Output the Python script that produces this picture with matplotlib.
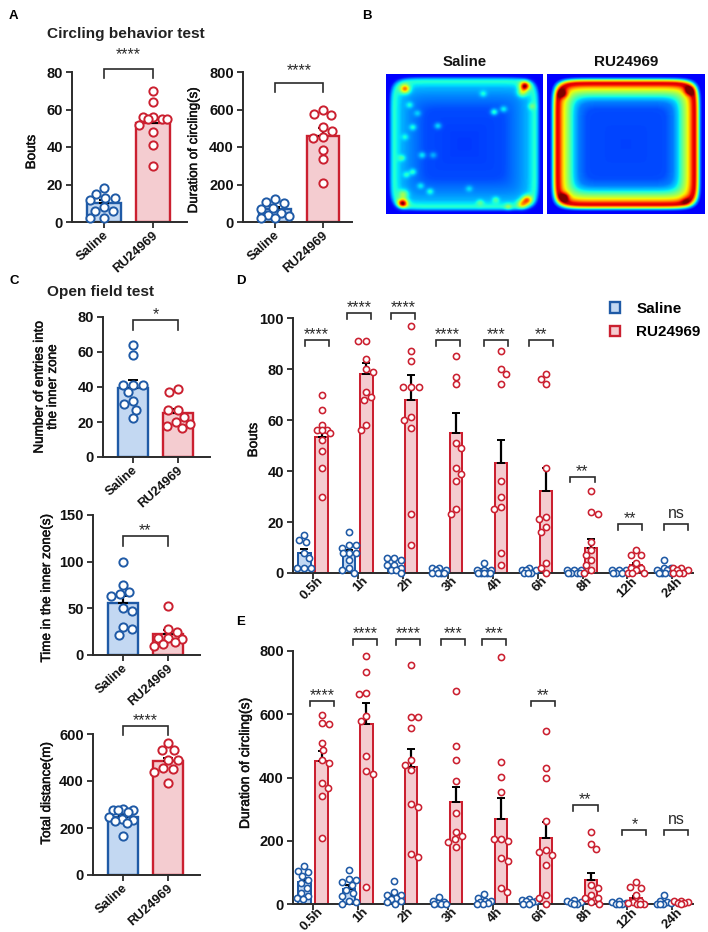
import matplotlib
matplotlib.use("Agg")
import matplotlib.pyplot as plt
import matplotlib.patheffects as pe
from matplotlib.transforms import ScaledTranslation
import numpy as np

plt.rcParams['font.family'] = ['Liberation Sans', 'DejaVu Sans']

W, H = 708, 932
BLUE, BLUE_FILL = '#1f5aa6', '#c3d8f2'
RED, RED_FILL = '#cb2030', '#f4ccd0'
DARK = '#2b2b2b'

groups = ['Saline', 'RU24969']
hours = ['0.5h', '1h', '2h', '3h', '4h', '6h', '8h', '12h', '24h']

# panel A
bouts_sal = [18, 15, 13, 13, 12, 8, 6, 6, 2, 2]
bouts_ru = [70, 64, 56, 56, 55, 55, 55, 52, 48, 41, 30]
dur_sal = [122, 105, 100, 75, 70, 50, 35, 30, 20, 20]
dur_ru = [597, 575, 570, 505, 487, 455, 450, 385, 335, 210]
a_means = [[10, 53], [70, 460]]
a_errs = [[1.6, 3.5], [12, 40]]

# panel C
entries_sal = [64, 58, 41, 41, 41, 37, 32, 30, 27, 22]
entries_ru = [39, 37, 27, 27, 23, 20, 19, 18, 16.5]
time_sal = [100, 75, 67, 65, 63, 50, 47, 30, 28, 21]
time_ru = [52, 28, 25, 18, 18, 17, 14, 12, 10]
dist_sal = [280, 278, 275, 275, 270, 245, 240, 235, 230, 220, 165]
dist_ru = [560, 530, 530, 490, 490, 455, 450, 440, 390]
c_means = [[39.5, 25], [56, 22], [245, 483]]
c_errs = [[4.5, 2.5], [7, 4.5], [12, 15]]

# panel D
d_sal = [[15, 13, 12, 8, 6, 2, 2, 2], [16, 11, 11, 10, 8, 8, 8, 5, 2, 1, 0],
         [6, 6, 5, 3, 3, 2, 1, 1, 0], [2, 2, 1, 1, 0, 0, 0, 0],
         [4, 1, 1, 1, 0, 0, 0, 0, 0], [2, 1, 1, 1, 0, 0, 0], [1, 1, 1, 0, 0, 0, 0],
         [1, 1, 1, 0, 0, 0], [5, 2, 2, 1, 1, 0, 0, 0, 0]]
d_ru = [[70, 64, 58, 56, 56, 56, 55, 52, 48, 41, 30],
        [91, 91, 84, 80, 79, 71, 69, 68, 58, 56],
        [97, 87, 83, 73, 73, 73, 61, 60, 57, 23, 11],
        [85, 77, 74, 51, 49, 41, 39, 36, 25, 23],
        [87, 80, 78, 74, 36, 30, 26, 25, 8, 3],
        [78, 76, 74, 41, 22, 21, 18, 16, 4, 2, 0],
        [32, 24, 23, 12, 9, 7, 5, 3, 1, 0],
        [9, 7, 7, 4, 2, 2, 1, 0, 0, 0],
        [2, 2, 1, 1, 0, 0, 0]]
d_sal_mean = [8, 7.5, 2.5, 0.7, 1, 1, 0.5, 0.5, 1.2]
d_sal_err = [1.5, 1.7, 0.8, 0.3, 0.4, 0.3, 0.2, 0.2, 0.5]
d_ru_mean = [53.5, 78, 68, 55, 43, 32, 10, 3, 1]
d_ru_err = [3.3, 4.5, 9.7, 7.7, 9.2, 9, 3.4, 1, 0.4]
d_stars = ['****', '****', '****', '****', '***', '**', '**', '**', 'ns']

# panel E
e_sal = [[120, 105, 100, 90, 75, 65, 50, 35, 25, 20, 15],
         [107, 78, 75, 70, 60, 45, 35, 25, 10, 5, 0],
         [73, 38, 30, 28, 20, 15, 10, 5, 0], [22, 10, 5, 3, 0, 0, 0],
         [32, 20, 10, 8, 5, 2, 0, 0], [15, 12, 10, 8, 5, 0, 0],
         [12, 8, 5, 2, 0, 0], [8, 5, 2, 0, 0, 0], [30, 10, 5, 2, 0, 0, 0]]
e_ru = [[597, 572, 570, 510, 488, 455, 445, 382, 368, 340, 210],
        [785, 735, 668, 663, 595, 578, 467, 420, 412, 55],
        [757, 592, 590, 555, 455, 440, 425, 317, 308, 158, 148],
        [675, 500, 455, 390, 288, 228, 215, 205, 195, 180],
        [780, 450, 403, 355, 207, 205, 200, 145, 135, 50, 38],
        [547, 430, 400, 262, 170, 165, 155, 122, 27, 20, 0],
        [228, 190, 173, 60, 50, 30, 20, 18, 5, 0],
        [70, 55, 52, 30, 10, 5, 3, 0, 0, 0],
        [10, 8, 5, 3, 2, 0]]
e_sal_mean = [70, 48, 22, 5, 8, 6, 4, 2, 5]
e_sal_err = [12, 12, 8, 3, 3, 2, 2, 1, 3]
e_ru_mean = [452, 568, 432, 323, 270, 210, 75, 20, 6]
e_ru_err = [32, 68, 57, 48, 65, 50, 23, 5, 2]
e_stars = ['****', '****', '****', '***', '***', '**', '**', '*', 'ns']

# bright specks in the saline heat map (u, v, height)
saline_spots = [(.69, .27, .2), (.75, .25, .15), (.33, .37, .14), (.17, .38, .14),
                (.23, .58, .14), (.17, .70, .15), (.28, .84, .14), (.53, .82, .1),
                (.62, .14, .12), (.12, .45, .1), (.10, .60, .14), (.13, .72, .12),
                (.20, .28, .1), (.15, .22, .12), (.22, .80, .12), (.70, .90, .14),
                (.60, .92, .12), (.78, .95, .14), (.30, .58, .1), (.93, .23, .12)]
saline_hot = [(.12, .105, .45), (.885, .085, .62), (.105, .925, .62), (.90, .90, .42),
              (.87, .13, .25), (.11, .86, .22), (.87, .93, .3)]
ru_hot = [(.10, .14, .3), (.90, .12, .3), (.11, .88, .3), (.88, .91, .12)]


def make_axes(left, right, top, bottom):
    ax = fig.add_axes([left / W, 1 - bottom / H, (right - left) / W, (bottom - top) / H])
    ax.patch.set_alpha(0)
    for s in ['top', 'right']:
        ax.spines[s].set_visible(False)
    for s in ['left', 'bottom']:
        ax.spines[s].set_linewidth(1.4)
        ax.spines[s].set_color(DARK)
    ax.tick_params(length=4.5, width=1.3, color=DARK, labelsize=10.5, pad=2, labelcolor='#111111')
    return ax


def swarm(values, x_px, y_px, size, max_off):
    # spread close values sideways, inside max_off pixels of the bar centre
    grid = np.arange(0, max_off + 0.5, 1.0)
    cands = [0.0]
    for g in grid[1:]:
        cands += [-g, g]
    placed = []
    out = []
    for i, v in enumerate(sorted(values, reverse=True)):
        y = v * y_px
        sign = 1 if i % 2 else -1
        best, best_d = 0.0, -1
        for c in cands:
            off = c * sign
            gaps = [np.hypot(off - a, y - b) for a, b in placed]
            d = min(gaps) if gaps else 99
            if d >= 0.9 * size:
                best = off
                break
            if d > best_d:
                best, best_d = off, d
        placed.append((best, y))
        out.append((best / x_px, v))
    return out


def draw_bar(ax, x, mean, err, values, edge, fill, width, size, lw, mew, max_off):
    ax.bar(x, mean, width, color=fill, edgecolor=edge, linewidth=lw, zorder=2)
    bbox = ax.get_position()
    x0, x1 = ax.get_xlim()
    y0, y1 = ax.get_ylim()
    x_px = bbox.width * W / (x1 - x0)
    y_px = bbox.height * H / (y1 - y0)
    pts = swarm(values, x_px, y_px, size, max_off)
    ax.errorbar(x, mean, yerr=[[0], [err]], color='black', capsize=size * 0.33, elinewidth=1.6,
                capthick=1.4, zorder=3)
    ax.plot([x + p[0] for p in pts], [p[1] for p in pts], 'o', mfc='white', mec=edge,
            mew=mew, ms=size * 0.72 - mew, clip_on=False, zorder=4, ls='none')


def bracket(ax, x0, x1, top, label, foot=6.5, gap=0):
    bbox = ax.get_position()
    y0, y1 = ax.get_ylim()
    dy = foot * (y1 - y0) / (bbox.height * H)
    ax.plot([x0, x0, x1, x1], [top - dy, top, top, top - dy], color=DARK, lw=1.2,
            clip_on=False, solid_joinstyle='miter', zorder=5)
    if label == 'ns':
        ax.annotate(label, ((x0 + x1) / 2, top), xytext=(0, 2 + gap), textcoords='offset points',
                    ha='center', va='bottom', fontsize=11.5, color=DARK, annotation_clip=False)
    else:
        ax.annotate(label, ((x0 + x1) / 2, top), xytext=(0, -1.5 + gap), textcoords='offset points',
                    ha='center', va='bottom', fontsize=11.5, color=DARK, annotation_clip=False)


def set_ylabel(ax, text, x_px, y_px, size=9.7):
    bb = ax.get_position()
    lab = ax.set_ylabel(text, fontsize=size, color='#111111', linespacing=1.15, fontweight='normal')
    lab.set_path_effects([pe.withStroke(linewidth=0.35, foreground='#111111')])
    ax.yaxis.set_label_coords((x_px / W - bb.x0) / bb.width, ((1 - y_px / H) - bb.y0) / bb.height)


def style_ticks(ax, labels, dx, dy, size=10, rot=45):
    ax.set_xticklabels(labels, rotation=rot, ha='right', va='top', rotation_mode='anchor', fontsize=size,
                       fontweight='semibold')
    shift = ScaledTranslation(dx / 100, dy / 100, fig.dpi_scale_trans)
    for t in ax.get_xticklabels():
        t.set_transform(t.get_transform() + shift)
    for t in ax.get_yticklabels():
        t.set_fontweight('bold')


def two_bars(ax_box, ylim, yticks, means, errs, sal, ru, ylabel, label_xy, xlim, top, stars, gap=0, lsize=9.7):
    ax = make_axes(*ax_box)
    ax.set_xlim(*xlim)
    ax.set_ylim(*ylim)
    ax.set_yticks(yticks)
    ax.set_xticks([0, 1])
    style_ticks(ax, groups, -1, 2, size=9.4, rot=42)
    draw_bar(ax, 0, means[0], errs[0], sal, BLUE, BLUE_FILL, 0.68, 10.2, 1.7, 1.4, 14)
    draw_bar(ax, 1, means[1], errs[1], ru, RED, RED_FILL, 0.68, 10.2, 1.7, 1.4, 14)
    bracket(ax, 0, 1, top, stars, foot=9.5, gap=gap)
    set_ylabel(ax, ylabel, *label_xy, size=lsize)
    return ax


def time_panel(ax_box, ylim, yticks, sal, ru, sal_mean, sal_err, ru_mean, ru_err, stars, tops, lefts,
               ylabel, label_xy, lsize):
    ax = make_axes(*ax_box)
    ax.set_xlim(-0.445, 8.46)
    ax.set_ylim(*ylim)
    ax.set_yticks(yticks)
    ax.set_xticks(range(len(hours)))
    style_ticks(ax, hours, 4, 7, size=9.6)
    for i in range(len(hours)):
        draw_bar(ax, i - 0.19, sal_mean[i], sal_err[i], sal[i], BLUE, BLUE_FILL, 0.27, 7.8, 1.45, 1.15, 7)
        draw_bar(ax, i + 0.19, ru_mean[i], ru_err[i], ru[i], RED, RED_FILL, 0.27, 7.8, 1.45, 1.15, 8)
        x0 = i + lefts[i] / 44.9
        bracket(ax, x0, x0 + 24 / 44.9, tops[i], stars[i], foot=5.5)
    set_ylabel(ax, ylabel, *label_xy, size=lsize)
    return ax


def heat_field(profile_d, profile_v, hot, spots, p):
    v, u = np.mgrid[0:1:240j, 0:1:240j]
    d = (np.abs(2 * u - 1) ** p + np.abs(2 * v - 1) ** p) ** (1 / p)
    z = np.interp(d, profile_d, profile_v)
    for cu, cv, amp in hot:
        z = z + amp * np.exp(-((u - cu) ** 2 + (v - cv) ** 2) / (2 * 0.022 ** 2))
    for cu, cv, amp in spots:
        z = z + amp * np.exp(-((u - cu) ** 2 + (v - cv) ** 2) / (2 * 0.016 ** 2))
    return z


def heat_panel(left, right, title, field, size):
    ax = fig.add_axes([left / W, 1 - 214 / H, (right - left) / W, 140 / H])
    ax.imshow(field, cmap='jet', vmin=0, vmax=1, aspect='auto', interpolation='bilinear')
    ax.axis('off')
    fig.text((left + right) / 2 / W, 1 - 62 / H, title, ha='center', va='center', fontsize=size,
             fontweight='bold', color='#111111')


fig = plt.figure(figsize=(W / 100, H / 100), dpi=100)

for label, x, y in [('A', 9, 16), ('B', 362, 16), ('C', 9, 281), ('D', 236, 281), ('E', 236, 622)]:
    fig.text(x / W, 1 - y / H, label, fontsize=9.5, fontweight='bold', va='center', ha='left')
fig.text(47 / W, 1 - 34 / H, 'Circling behavior test', fontsize=11.1, fontweight='bold', va='center',
         color='#222222')
fig.text(47 / W, 1 - 292 / H, 'Open field test', fontsize=11.1, fontweight='bold', va='center',
         color='#222222')

two_bars((72, 187, 72, 222), (0, 80), [0, 20, 40, 60, 80], a_means[0], a_errs[0], bouts_sal, bouts_ru,
         'Bouts', (38, 152), (-0.653, 1.694), 81.7, '****', gap=6)
two_bars((243, 352, 72, 222), (0, 800), [0, 200, 400, 600, 800], a_means[1], a_errs[1], dur_sal, dur_ru,
         'Duration of circling(s)', (200, 150), (-0.667, 1.6), 743, '****', gap=5, lsize=9.6)
two_bars((103, 210, 317, 457), (0, 80), [0, 20, 40, 60, 80], c_means[0], c_errs[0], entries_sal,
         entries_ru, 'Number of entries into\nthe inner zone', (59, 387), (-0.667, 1.711), 78, '*')
two_bars((93, 200, 515, 655), (0, 150), [0, 50, 100, 150], c_means[1], c_errs[1], time_sal, time_ru,
         'Time in the inner zone(s)', (53, 588), (-0.667, 1.711), 127, '**')
two_bars((93, 200, 734, 875), (0, 600), [0, 200, 400, 600], c_means[2], c_errs[2], dist_sal, dist_ru,
         'Total distance(m)', (53, 793), (-0.667, 1.711), 635, '****')

time_panel((293, 693, 318, 573), (0, 100), [0, 20, 40, 60, 80, 100], d_sal, d_ru, d_sal_mean,
           d_sal_err, d_ru_mean, d_ru_err, d_stars,
           [91.3, 101.8, 101.8, 91.3, 91.3, 91.3, 37.8, 19.2, 19.2],
           [-8.3, -11, -12, -12, -9, -9, -12, -9, -8], 'Bouts', (260, 440), 9.7)
time_panel((293, 693, 651, 904), (0, 800), [0, 200, 400, 600, 800], e_sal, e_ru, e_sal_mean, e_sal_err,
           e_ru_mean, e_ru_err, e_stars, [642, 837, 837, 837, 837, 643, 313, 234, 234],
           [-3, -5, -7, -7, -11, -7, -9, -5, -8], 'Duration of circling(s)', (252, 763), 10)

h = [plt.Rectangle((0, 0), 1, 1, fc=BLUE_FILL, ec=BLUE, lw=1.7),
     plt.Rectangle((0, 0), 1, 1, fc=RED_FILL, ec=RED, lw=1.7)]
fig.legend(h, groups, loc='upper left', bbox_to_anchor=(610 / W, 1 - 302 / H), frameon=False,
           handlelength=0.68, handleheight=0.68, handletextpad=1.05, labelspacing=0.62, borderpad=0,
           borderaxespad=0, prop={'weight': 'bold', 'size': 11})

heat_panel(386, 543, 'Saline',
           heat_field([0, .5, .7, .8, .86, .9, .93, .97, 1.02, 2],
                      [.18, .2, .26, .3, .36, .4, .33, .14, .11, .11],
                      saline_hot, saline_spots, 9), 10.8)
heat_panel(547, 705, 'RU24969',
           heat_field([0, .5, .6, .66, .72, .77, .81, .85, .88, .91, .94, .97, 2],
                      [.19, .2, .25, .33, .48, .6, .72, .9, .92, .65, .28, .11, .11], ru_hot, [], 9), 11)

fig.savefig('out.png', dpi=100)
